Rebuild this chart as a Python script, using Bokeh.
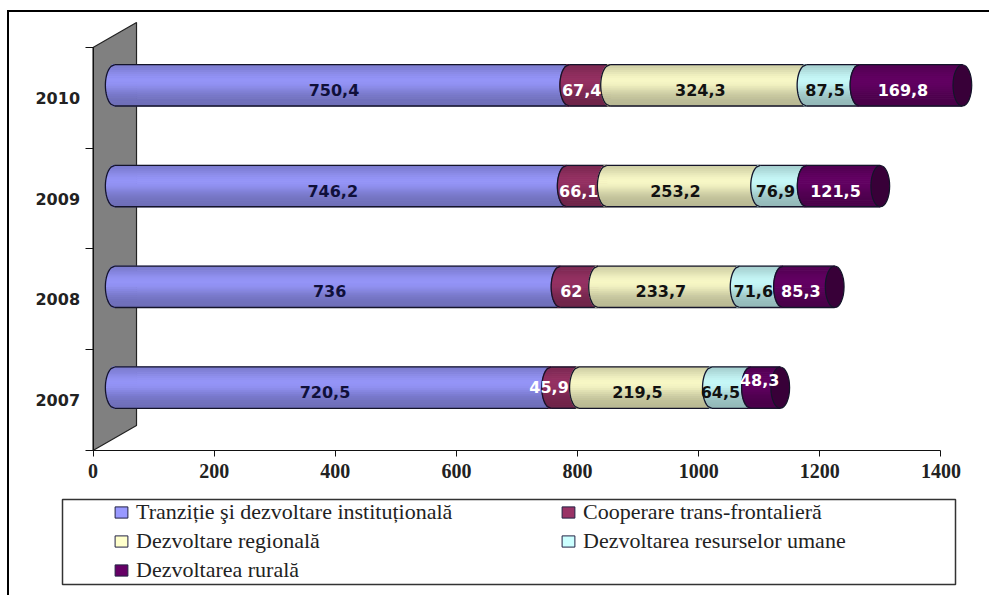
from bokeh.plotting import figure
from bokeh.models import FixedTicker, Legend, LegendItem, Range1d, BoxAnnotation
from bokeh.core.properties import value
from bokeh.embed import file_html
from bokeh.resources import INLINE
import math

# ---- data ----
years = ["2007", "2008", "2009", "2010"]
series_names = ["Tranziție şi dezvoltare instituțională", "Cooperare trans-frontalieră",
                "Dezvoltare regională", "Dezvoltarea resurselor umane", "Dezvoltarea rurală"]
tranzitie = [720.5, 736, 746.2, 750.4]
cooperare = [45.9, 62, 66.1, 67.4]
regionala = [219.5, 233.7, 253.2, 324.3]
resurse = [64.5, 71.6, 76.9, 87.5]
rurala = [48.3, 85.3, 121.5, 169.8]
labels = [["720,5", "736", "746,2", "750,4"], ["45,9", "62", "66,1", "67,4"],
          ["219,5", "233,7", "253,2", "324,3"], ["64,5", "71,6", "76,9", "87,5"],
          ["48,3", "85,3", "121,5", "169,8"]]
x_ticks = [0, 200, 400, 600, 800, 1000, 1200, 1400]

# ---- style ----
colors = ["#9999FF", "#993366", "#FFFFCC", "#CCFFFF", "#660066"]
label_colors = ["#10103a", "#ffffff", "#111111", "#111111", "#ffffff"]
# pixel nudges of single data labels (series, year index): (dx, dy)
nudges = {(1, 0): (-8, -5), (4, 0): (2, -12), (3, 0): (-3, 0)}
outline = "#14142a"
NB = 21
DX, DY = 71.8, 0.248       # 3D depth of the wall
BAR_H, CAP = 0.41, 15.5

def shade(hex_c, f):
    r, g, b = (int(hex_c[i:i + 2], 16) for i in (1, 3, 5))
    return "#%02x%02x%02x" % tuple(int(max(0, min(255, c * f))) for c in (r, g, b))

def profile(t):   # t in -1 (bottom) .. 1 (top)
    return 0.72 + 0.22 * math.exp(-((t - 0.2) / 0.6) ** 2) + 0.05 * (t + 1) / 2

W, H = 982, 585
p = figure(width=W, height=H, output_backend="svg", toolbar_location=None,
           x_range=Range1d(-137.9, 1483.4), y_range=Range1d(-1.459, 4.347),
           min_border=0, outline_line_color=None, background_fill_color="white",
           styles={"margin-left": "7px", "margin-top": "10px",
                   "border-top": "2px solid #000", "border-left": "2px solid #000"})
p.grid.visible = False

ax = p.xaxis[0]
ax.fixed_location = 0
ax.ticker = FixedTicker(ticks=x_ticks)
ax.bounds = (0, 1400)
ax.major_tick_in, ax.major_tick_out = 0, 6
ax.minor_tick_line_color = None
ax.axis_line_color = ax.major_tick_line_color = "#111111"
ax.major_label_text_font = "Liberation Serif"
ax.major_label_text_font_style = "bold"
ax.major_label_text_font_size = "20px"
ax.major_label_text_color = "#222222"
ax.major_label_standoff = 8

ay = p.yaxis[0]
ay.fixed_location = 0
ay.ticker = FixedTicker(ticks=[i + 0.5 for i in range(4)], minor_ticks=[0, 1, 2, 3, 4])
ay.major_label_overrides = {i + 0.5: y for i, y in enumerate(years)}
ay.bounds = (0, 4)
ay.major_tick_in = ay.major_tick_out = 0
ay.minor_tick_in, ay.minor_tick_out = 0, 8
ay.axis_line_color = ay.minor_tick_line_color = "#111111"
ay.major_label_text_font = "DejaVu Sans"
ay.major_label_text_font_style = "bold"
ay.major_label_text_font_size = "16px"
ay.major_label_text_color = "#222222"
ay.major_label_standoff = 5

# wall
p.patch([0, DX, DX, 0], [0, DY, 4 + DY, 4], fill_color="#808080", line_color="#222222", line_width=1.2)

all_series = [tranzitie, cooperare, regionala, resurse, rurala]
lab_x, lab_y, lab_t, lab_c, lab_dx, lab_dy = [], [], [], [], [], []
for r in range(4):
    yc = r + 0.5 + DY / 2
    start = DX / 2
    for s, vals in enumerate(all_series):
        end = start + vals[r]
        left, right, top, bottom, fill = [], [], [], [], []
        for b in range(NB):
            t0 = 1 - 2 * b / NB
            t1 = 1 - 2 * (b + 1) / NB
            tm = (t0 + t1) / 2
            left.append(start - CAP * math.sqrt(1 - tm * tm))
            right.append(end)
            top.append(yc + t0 * BAR_H / 2)
            bottom.append(yc + t1 * BAR_H / 2)
            fill.append(shade(colors[s], profile(tm)))
        p.quad(left=left, right=right, top=top, bottom=bottom, fill_color=fill, line_color=fill, line_width=1)
        ts = [-1 + 2 * i / 24 for i in range(25)]
        xs = [start - CAP * math.sqrt(1 - t * t) for t in ts]
        ys = [yc + t * BAR_H / 2 for t in ts]
        p.line(xs, ys, line_color=outline, line_width=1.3)
        p.line([start, end], [yc + BAR_H / 2] * 2, line_color=outline, line_width=1.3)
        p.line([start, end], [yc - BAR_H / 2] * 2, line_color=outline, line_width=1.3)
        n = nudges.get((s, r), (0, 0))
        lab_x.append((start + end) / 2)
        lab_y.append(yc)
        lab_t.append(labels[s][r])
        lab_c.append(label_colors[s])
        lab_dx.append(-8 + n[0])
        lab_dy.append(4.5 + n[1])
        start = end
    p.ellipse(x=[start], y=[yc], width=2 * CAP, height=BAR_H, fill_color=shade(colors[4], 0.55),
              line_color=outline, line_width=1.2)

p.text(x=lab_x, y=lab_y, text=lab_t, text_color=lab_c, text_align="center", text_baseline="middle",
       x_offset=lab_dx, y_offset=lab_dy, text_font=value("DejaVu Sans"), text_font_style="bold",
       text_font_size="16px")

# legend box (in screen pixels of the figure)
p.add_layout(BoxAnnotation(left=53, right=946, top=98, bottom=13,
                           left_units="screen", right_units="screen", top_units="screen", bottom_units="screen",
                           fill_color=None, line_color="#333333", line_alpha=1, line_width=1.5))
# legend
nan = float("nan")
items = []
for name, col in zip(series_names, colors):
    r = p.quad(left=[nan], right=[nan], top=[nan], bottom=[nan], fill_color=col, line_color="#222244", line_width=1)
    items.append(LegendItem(label=name, renderers=[r], index=0))
leg = Legend(items=items, ncols=2, orientation="horizontal", location=(104, 14), label_text_font="Liberation Serif",
             label_text_font_size="22px", label_text_color="#222222", glyph_width=16, glyph_height=14,
             label_width=421, spacing=3, padding=0, margin=0, border_line_color=None,
             background_fill_alpha=0, label_standoff=7)
p.add_layout(leg)

open("out.html", "w").write(file_html(p, INLINE))
